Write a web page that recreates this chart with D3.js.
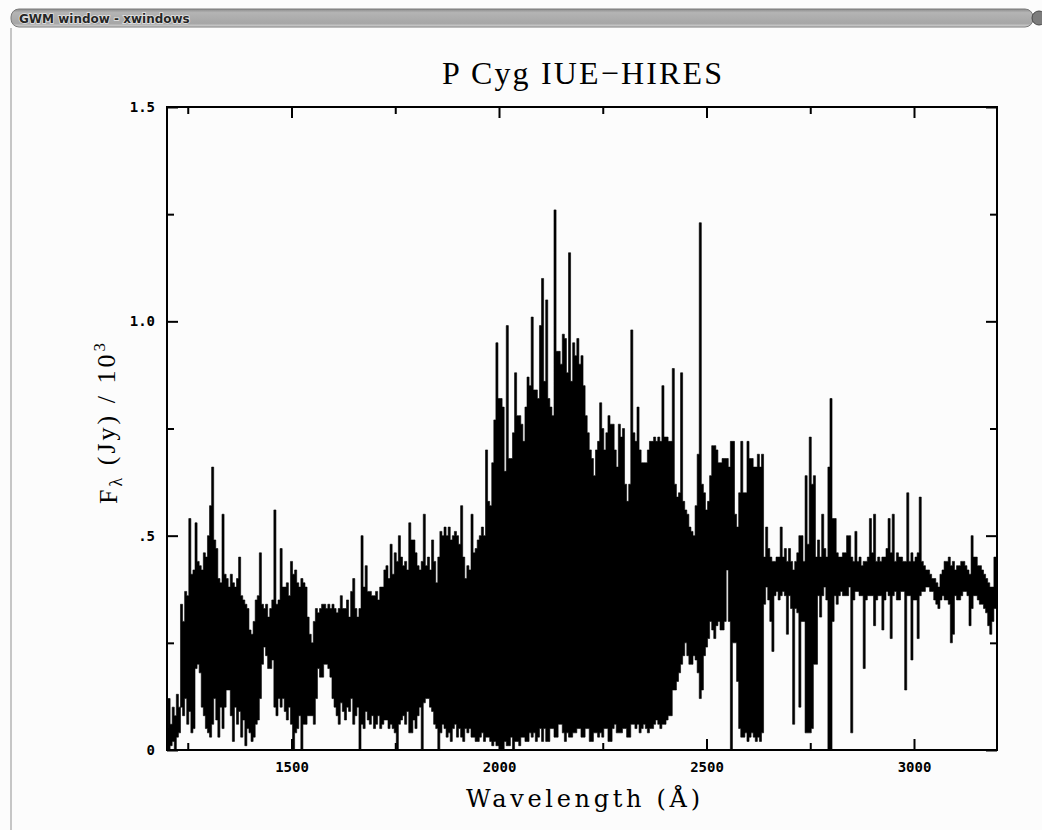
<!DOCTYPE html>
<html>
<head>
<meta charset="utf-8">
<script src="https://cdn.jsdelivr.net/npm/d3@7"></script>
<style>
  html, body { margin: 0; padding: 0; background: #fcfcfc; }
  svg { display: block; }
</style>
</head>
<body>
<div id="graf"></div>
<script>
// Datos: espectro, en intervalos de 5 Å desde 1200 Å.
// Para cada intervalo, el flujo máximo y el mínimo que alcanza la línea.
lambda0 = 1200
dLambda = 5
flujoMax = [
  0.05, 0.12, 0.06, 0.10, 0.08, 0.13, 0.10, 0.34, 0.30, 0.37,
  0.36, 0.54, 0.41, 0.42, 0.53, 0.44, 0.43, 0.42, 0.46, 0.45,
  0.50, 0.57, 0.66, 0.49, 0.47, 0.40, 0.39, 0.55, 0.41, 0.40,
  0.38, 0.41, 0.39, 0.38, 0.40, 0.45, 0.36, 0.35, 0.34, 0.33,
  0.28, 0.27, 0.30, 0.35, 0.36, 0.46, 0.34, 0.33, 0.34, 0.31,
  0.33, 0.35, 0.56, 0.34, 0.35, 0.47, 0.38, 0.38, 0.39, 0.36,
  0.44, 0.41, 0.42, 0.39, 0.38, 0.40, 0.39, 0.38, 0.31, 0.27,
  0.25, 0.30, 0.33, 0.32, 0.33, 0.34, 0.34, 0.33, 0.34, 0.33,
  0.34, 0.33, 0.32, 0.33, 0.36, 0.33, 0.33, 0.35, 0.31, 0.37,
  0.40, 0.33, 0.31, 0.33, 0.50, 0.38, 0.43, 0.37, 0.37, 0.36,
  0.36, 0.37, 0.35, 0.38, 0.38, 0.42, 0.43, 0.40, 0.48, 0.41,
  0.46, 0.44, 0.50, 0.45, 0.43, 0.44, 0.42, 0.53, 0.49, 0.49,
  0.46, 0.43, 0.42, 0.44, 0.55, 0.43, 0.45, 0.42, 0.49, 0.44,
  0.39, 0.45, 0.51, 0.50, 0.52, 0.50, 0.52, 0.49, 0.50, 0.51,
  0.50, 0.48, 0.57, 0.45, 0.40, 0.43, 0.42, 0.55, 0.46, 0.47,
  0.49, 0.50, 0.52, 0.50, 0.70, 0.58, 0.57, 0.67, 0.77, 0.95,
  0.82, 0.82, 0.80, 0.65, 0.99, 0.68, 0.68, 0.74, 0.88, 0.78,
  0.78, 0.76, 0.72, 0.80, 0.87, 0.85, 1.01, 0.84, 0.84, 0.82,
  0.99, 1.10, 0.86, 1.05, 0.82, 0.80, 0.78, 1.26, 0.93, 0.93,
  0.90, 0.97, 0.96, 0.88, 1.16, 0.86, 0.95, 0.92, 0.96, 0.90,
  0.92, 0.85, 0.78, 0.74, 0.70, 0.68, 0.64, 0.70, 0.72, 0.81,
  0.75, 0.70, 0.74, 0.78, 0.76, 0.76, 0.70, 0.66, 0.76, 0.73,
  0.75, 0.62, 0.58, 0.62, 0.98, 0.74, 0.72, 0.80, 0.70, 0.67,
  0.67, 0.67, 0.70, 0.72, 0.72, 0.73, 0.72, 0.73, 0.72, 0.85,
  0.73, 0.73, 0.72, 0.72, 0.89, 0.62, 0.59, 0.60, 0.88, 0.58,
  0.56, 0.55, 0.52, 0.51, 0.50, 0.57, 0.69, 1.23, 0.62, 0.60,
  0.56, 0.58, 0.64, 0.71, 0.71, 0.70, 0.67, 0.67, 0.68, 0.68,
  0.68, 0.66, 0.72, 0.72, 0.55, 0.52, 0.60, 0.72, 0.60, 0.60,
  0.72, 0.68, 0.68, 0.66, 0.66, 0.69, 0.66, 0.69, 0.45, 0.52,
  0.47, 0.45, 0.44, 0.44, 0.45, 0.45, 0.52, 0.45, 0.47, 0.44,
  0.47, 0.44, 0.42, 0.44, 0.46, 0.50, 0.50, 0.44, 0.64, 0.48,
  0.73, 0.62, 0.64, 0.45, 0.49, 0.45, 0.55, 0.47, 0.45, 0.66,
  0.82, 0.54, 0.54, 0.46, 0.45, 0.45, 0.46, 0.46, 0.50, 0.50,
  0.45, 0.44, 0.51, 0.44, 0.45, 0.43, 0.44, 0.44, 0.45, 0.54,
  0.46, 0.55, 0.44, 0.45, 0.44, 0.45, 0.45, 0.47, 0.54, 0.46,
  0.55, 0.44, 0.46, 0.45, 0.45, 0.44, 0.44, 0.60, 0.44, 0.46,
  0.44, 0.45, 0.46, 0.59, 0.44, 0.43, 0.42, 0.42, 0.41, 0.40,
  0.40, 0.39, 0.38, 0.41, 0.42, 0.44, 0.44, 0.45, 0.43, 0.44,
  0.42, 0.43, 0.43, 0.44, 0.44, 0.43, 0.42, 0.41, 0.50, 0.45,
  0.45, 0.43, 0.43, 0.42, 0.41, 0.40, 0.39, 0.38, 0.38, 0.45,
  0.45
]
flujoMin = [
  0.00, 0.00, 0.01, 0.02, 0.00, 0.03, 0.04, 0.10, 0.08, 0.12,
  0.06, 0.09, 0.04, 0.05, 0.19, 0.20, 0.18, 0.10, 0.08, 0.05,
  0.04, 0.03, 0.06, 0.12, 0.07, 0.03, 0.10, 0.05, 0.10, 0.14,
  0.14, 0.08, 0.02, 0.10, 0.06, 0.09, 0.03, 0.07, 0.01, 0.05,
  0.04, 0.02, 0.03, 0.06, 0.07, 0.12, 0.20, 0.24, 0.22, 0.19,
  0.19, 0.21, 0.10, 0.08, 0.12, 0.10, 0.12, 0.09, 0.07, 0.10,
  0.06, 0.00, 0.04, 0.05, 0.08, 0.00, 0.06, 0.06, 0.08, 0.08,
  0.08, 0.06, 0.12, 0.19, 0.17, 0.17, 0.20, 0.20, 0.19, 0.17,
  0.12, 0.10, 0.08, 0.06, 0.11, 0.09, 0.07, 0.10, 0.09, 0.12,
  0.06, 0.08, 0.10, 0.00, 0.06, 0.05, 0.09, 0.07, 0.06, 0.08,
  0.05, 0.06, 0.08, 0.05, 0.06, 0.07, 0.07, 0.05, 0.06, 0.05,
  0.04, 0.00, 0.06, 0.07, 0.08, 0.06, 0.09, 0.04, 0.04, 0.07,
  0.05, 0.08, 0.10, 0.00, 0.11, 0.12, 0.12, 0.10, 0.09, 0.06,
  0.05, 0.00, 0.04, 0.06, 0.05, 0.03, 0.04, 0.02, 0.05, 0.06,
  0.03, 0.05, 0.03, 0.02, 0.05, 0.04, 0.05, 0.03, 0.03, 0.02,
  0.02, 0.03, 0.04, 0.02, 0.03, 0.03, 0.02, 0.01, 0.02, 0.01,
  0.01, 0.00, 0.00, 0.02, 0.01, 0.01, 0.03, 0.00, 0.02, 0.02,
  0.01, 0.03, 0.03, 0.02, 0.02, 0.04, 0.03, 0.04, 0.02, 0.03,
  0.05, 0.02, 0.05, 0.02, 0.02, 0.05, 0.05, 0.03, 0.03, 0.06,
  0.06, 0.04, 0.02, 0.04, 0.03, 0.03, 0.04, 0.04, 0.05, 0.05,
  0.03, 0.03, 0.05, 0.05, 0.02, 0.02, 0.04, 0.04, 0.03, 0.04,
  0.03, 0.05, 0.05, 0.02, 0.02, 0.05, 0.06, 0.04, 0.04, 0.04,
  0.05, 0.05, 0.03, 0.03, 0.06, 0.06, 0.05, 0.06, 0.04, 0.05,
  0.06, 0.05, 0.04, 0.05, 0.05, 0.06, 0.07, 0.06, 0.05, 0.06,
  0.06, 0.07, 0.08, 0.08, 0.14, 0.14, 0.16, 0.18, 0.20, 0.22,
  0.25, 0.22, 0.20, 0.20, 0.22, 0.21, 0.18, 0.12, 0.14, 0.22,
  0.24, 0.26, 0.30, 0.28, 0.26, 0.29, 0.30, 0.28, 0.28, 0.30,
  0.42, 0.30, 0.00, 0.25, 0.25, 0.16, 0.05, 0.03, 0.03, 0.04,
  0.02, 0.03, 0.04, 0.03, 0.02, 0.03, 0.02, 0.04, 0.34, 0.38,
  0.35, 0.30, 0.23, 0.36, 0.37, 0.35, 0.36, 0.37, 0.36, 0.27,
  0.36, 0.33, 0.06, 0.33, 0.32, 0.10, 0.30, 0.30, 0.04, 0.04,
  0.04, 0.05, 0.20, 0.20, 0.36, 0.31, 0.36, 0.38, 0.35, 0.00,
  0.00, 0.30, 0.36, 0.34, 0.36, 0.37, 0.36, 0.36, 0.36, 0.38,
  0.04, 0.35, 0.37, 0.37, 0.36, 0.36, 0.19, 0.35, 0.36, 0.36,
  0.36, 0.29, 0.35, 0.36, 0.36, 0.28, 0.35, 0.37, 0.36, 0.26,
  0.36, 0.37, 0.35, 0.35, 0.37, 0.37, 0.14, 0.36, 0.36, 0.21,
  0.35, 0.35, 0.26, 0.36, 0.37, 0.37, 0.38, 0.38, 0.37, 0.37,
  0.35, 0.34, 0.33, 0.35, 0.36, 0.35, 0.35, 0.34, 0.25, 0.27,
  0.36, 0.35, 0.35, 0.36, 0.37, 0.37, 0.36, 0.29, 0.33, 0.36,
  0.36, 0.35, 0.34, 0.34, 0.33, 0.32, 0.29, 0.27, 0.30, 0.33,
  0.33
]

ticksX = [1500, 2000, 2500, 3000]
ticksXmenor = [1250, 1750, 2250, 2750]
ticksY = [0, 0.5, 1.0, 1.5]
etiquetasY = ['0', '.5', '1.0', '1.5']
ticksYmenor = [0.25, 0.75, 1.25]

// I. Configuración
ancho_total = 1042
alto_total = 830
margins = { top: 107, left: 167, right: 45, bottom: 80 }
ancho = ancho_total - margins.left - margins.right
alto  = alto_total - margins.top - margins.bottom

svg = d3.select('#graf').append('svg')
        .attr('width', ancho_total)
        .attr('height', alto_total)

// II. Marco de la ventana (barra de título)
svg.append('rect').attr('width', ancho_total).attr('height', alto_total).attr('fill', '#fcfcfc')

defs = svg.append('defs')
grad = defs.append('linearGradient').attr('id', 'barra').attr('x1', 0).attr('y1', 0).attr('x2', 0).attr('y2', 1)
grad.append('stop').attr('offset', '0%').attr('stop-color', '#8c8c8c')
grad.append('stop').attr('offset', '20%').attr('stop-color', '#b4b4b4')
grad.append('stop').attr('offset', '80%').attr('stop-color', '#a6a6a6')
grad.append('stop').attr('offset', '100%').attr('stop-color', '#d8d8d8')

svg.append('rect')
   .attr('x', 11).attr('y', 9).attr('width', 1022).attr('height', 18).attr('rx', 8)
   .attr('fill', 'url(#barra)').attr('stroke', '#7a7a7a').attr('stroke-width', 1)

svg.append('text')
   .attr('x', 19).attr('y', 22.5)
   .style('font-family', 'DejaVu Sans').style('font-weight', 'bold').style('font-size', '12px')
   .attr('fill', '#262626').attr('stroke', '#e6e6e6').attr('stroke-width', 1.5)
   .attr('paint-order', 'stroke')
   .text('GWM window - xwindows')

svg.append('circle').attr('cx', 1039).attr('cy', 18).attr('r', 7)
   .attr('fill', '#7c7c7c').attr('stroke', '#4a4a4a')

svg.append('line').attr('x1', 11).attr('x2', 11).attr('y1', 28).attr('y2', alto_total)
   .attr('stroke', '#c6c6c6').attr('stroke-width', 2)

// III. Gráfica
g = svg.append('g')
       .attr('transform', `translate(${ margins.left }, ${ margins.top })`)

x = d3.scaleLinear().domain([1200, 3200]).range([0, ancho])
y = d3.scaleLinear().domain([0, 1.5]).range([alto, 0])

defs.append('clipPath').attr('id', 'recorte')
    .append('rect').attr('width', ancho).attr('height', alto)

// la línea del espectro ocupa, en cada intervalo, del mínimo al máximo
espectro = d3.area()
             .x((d, i) => x(lambda0 + i * dLambda))
             .y0((d, i) => y(flujoMin[i]))
             .y1(d => y(d))
             .curve(d3.curveStep)

g.append('path')
 .datum(flujoMax)
 .attr('d', espectro)
 .attr('fill', '#000')
 .attr('stroke', '#000')
 .attr('stroke-width', 0.6)
 .attr('clip-path', 'url(#recorte)')

function estilo(sel) {
  sel.select('.domain').remove()
  sel.selectAll('line').attr('stroke', '#000').attr('stroke-width', 2)
  sel.selectAll('text')
     .attr('fill', '#000')
     .style('font-family', 'DejaVu Sans Mono')
     .style('font-weight', 'bold')
     .style('font-size', '14px')
}

g.append('g').attr('transform', `translate(0, ${ alto })`)
 .call(d3.axisBottom(x).tickValues(ticksX).tickSize(-11).tickSizeOuter(0).tickPadding(12).tickFormat(d3.format('d')))
 .call(estilo)
g.append('g').attr('transform', `translate(0, ${ alto })`)
 .call(d3.axisBottom(x).tickValues(ticksXmenor).tickSize(-7).tickSizeOuter(0).tickFormat(''))
 .call(estilo)
g.append('g')
 .call(d3.axisTop(x).tickValues(ticksX).tickSize(-11).tickSizeOuter(0).tickFormat(''))
 .call(estilo)
g.append('g')
 .call(d3.axisTop(x).tickValues(ticksXmenor).tickSize(-7).tickSizeOuter(0).tickFormat(''))
 .call(estilo)

g.append('g')
 .call(d3.axisLeft(y).tickValues(ticksY).tickSize(-11).tickSizeOuter(0).tickPadding(12).tickFormat((d, i) => etiquetasY[i]))
 .call(estilo)
g.append('g')
 .call(d3.axisLeft(y).tickValues(ticksYmenor).tickSize(-7).tickSizeOuter(0).tickFormat(''))
 .call(estilo)
g.append('g').attr('transform', `translate(${ ancho }, 0)`)
 .call(d3.axisRight(y).tickValues(ticksY).tickSize(-11).tickSizeOuter(0).tickFormat(''))
 .call(estilo)
g.append('g').attr('transform', `translate(${ ancho }, 0)`)
 .call(d3.axisRight(y).tickValues(ticksYmenor).tickSize(-7).tickSizeOuter(0).tickFormat(''))
 .call(estilo)

g.append('rect')
 .attr('width', ancho).attr('height', alto)
 .attr('fill', 'none').attr('stroke', '#000').attr('stroke-width', 2)

// IV. Textos
svg.append('text')
   .attr('x', 582).attr('y', 84)
   .attr('text-anchor', 'middle')
   .attr('textLength', 280).attr('lengthAdjust', 'spacing')
   .style('font-family', 'Liberation Serif').style('font-size', '32px')
   .text('P Cyg IUE\u2212HIRES')

svg.append('text')
   .attr('x', 583).attr('y', 807)
   .attr('text-anchor', 'middle')
   .attr('textLength', 234).attr('lengthAdjust', 'spacing')
   .style('font-family', 'DejaVu Serif').style('font-size', '24px')
   .text('Wavelength (\u00c5)')

ylab = svg.append('text')
          .attr('transform', 'translate(117, 422) rotate(-90)')
          .attr('text-anchor', 'middle')
          .style('font-family', 'Liberation Serif').style('font-size', '26px')
          .style('letter-spacing', '3px')
ylab.append('tspan').text('F')
ylab.append('tspan').attr('dy', '0.3em').style('font-size', '18px').text('\u03bb')
ylab.append('tspan').attr('dy', '-0.3em').text(' (Jy) / 10')
ylab.append('tspan').attr('dy', '-0.55em').style('font-size', '17px').text('3')
</script>
</body>
</html>
